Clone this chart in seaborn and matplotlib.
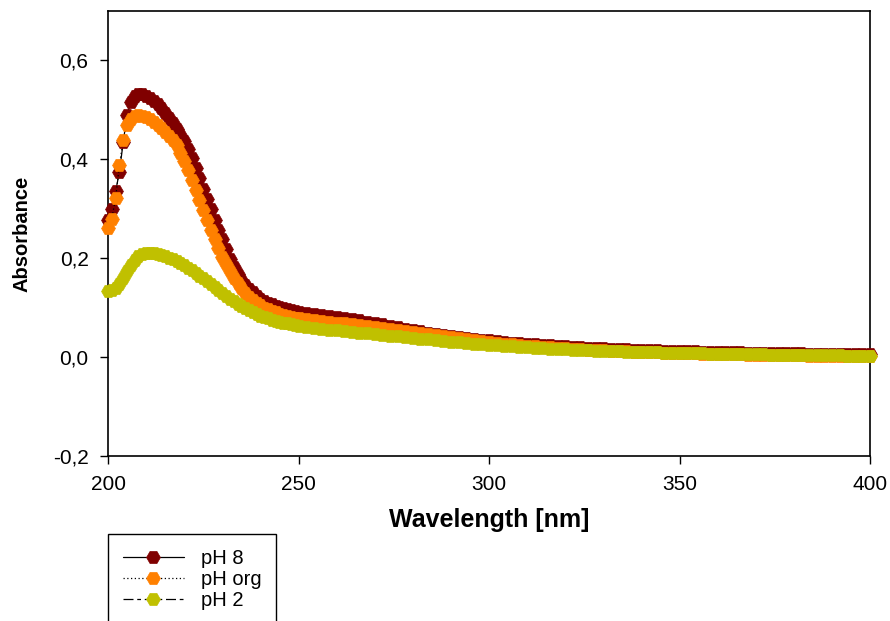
import matplotlib
matplotlib.use("Agg")
import matplotlib.pyplot as plt
import seaborn as sns
import pandas as pd

# ---------------- data ----------------
wavelength = list(range(200, 251)) + list(range(252, 401, 2))

ph8 = [0.278, 0.300, 0.335, 0.375, 0.435, 0.490, 0.515, 0.528, 0.533, 0.532,
       0.529, 0.524, 0.518, 0.511, 0.503, 0.494, 0.484, 0.473, 0.461, 0.449,
       0.437, 0.420, 0.402, 0.382, 0.362, 0.341, 0.320, 0.299, 0.278, 0.258,
       0.238, 0.218, 0.198, 0.182, 0.168, 0.156, 0.146, 0.138, 0.131, 0.124,
       0.118, 0.114, 0.110, 0.107, 0.104, 0.101, 0.099, 0.097, 0.095, 0.094,
       0.092,
       0.090, 0.088, 0.086, 0.084, 0.082, 0.080, 0.078, 0.075, 0.072, 0.069,
       0.066, 0.063, 0.060, 0.057, 0.054, 0.052, 0.049, 0.047, 0.045, 0.043,
       0.041, 0.039, 0.037, 0.035, 0.034, 0.032, 0.031, 0.029, 0.028, 0.027,
       0.026, 0.025, 0.024, 0.023, 0.022, 0.021, 0.020, 0.019, 0.019, 0.018,
       0.017, 0.017, 0.016, 0.015, 0.015, 0.014, 0.014, 0.013, 0.013, 0.012,
       0.012, 0.012, 0.011, 0.011, 0.011, 0.010, 0.010, 0.010, 0.009, 0.009,
       0.009, 0.009, 0.008, 0.008, 0.008, 0.008, 0.007, 0.007, 0.007, 0.007,
       0.006, 0.006, 0.006, 0.006, 0.006]

ph_org = [0.262, 0.280, 0.322, 0.388, 0.440, 0.470, 0.481, 0.487, 0.489, 0.488,
          0.485, 0.481, 0.476, 0.470, 0.463, 0.456, 0.448, 0.439, 0.428, 0.413,
          0.397, 0.378, 0.358, 0.338, 0.318, 0.297, 0.277, 0.257, 0.238, 0.220,
          0.203, 0.188, 0.174, 0.160, 0.149, 0.139, 0.130, 0.122, 0.115, 0.110,
          0.105, 0.100, 0.097, 0.094, 0.091, 0.088, 0.086, 0.084, 0.082, 0.080,
          0.079,
          0.077, 0.075, 0.073, 0.072, 0.070, 0.069, 0.067, 0.065, 0.063, 0.061,
          0.059, 0.057, 0.055, 0.052, 0.050, 0.048, 0.046, 0.044, 0.042, 0.040,
          0.038, 0.036, 0.034, 0.032, 0.030, 0.029, 0.027, 0.026, 0.025, 0.023,
          0.022, 0.021, 0.020, 0.019, 0.018, 0.017, 0.016, 0.015, 0.014, 0.014,
          0.013, 0.012, 0.012, 0.011, 0.011, 0.010, 0.010, 0.009, 0.009, 0.008,
          0.008, 0.008, 0.007, 0.007, 0.007, 0.006, 0.006, 0.006, 0.005, 0.005,
          0.005, 0.005, 0.004, 0.004, 0.004, 0.004, 0.003, 0.003, 0.003, 0.003,
          0.003, 0.002, 0.002, 0.002, 0.002]

ph2 = [0.134, 0.136, 0.140, 0.148, 0.160, 0.174, 0.187, 0.197, 0.204, 0.208,
       0.210, 0.211, 0.210, 0.208, 0.206, 0.204, 0.201, 0.198, 0.194, 0.190,
       0.186, 0.181, 0.176, 0.171, 0.165, 0.159, 0.153, 0.147, 0.141, 0.135,
       0.129, 0.123, 0.118, 0.113, 0.108, 0.103, 0.099, 0.095, 0.091, 0.087,
       0.084, 0.081, 0.079, 0.076, 0.074, 0.072, 0.070, 0.068, 0.066, 0.064,
       0.063,
       0.061, 0.059, 0.057, 0.055, 0.054, 0.052, 0.051, 0.049, 0.048, 0.046,
       0.045, 0.043, 0.042, 0.040, 0.039, 0.037, 0.036, 0.034, 0.033, 0.031,
       0.030, 0.029, 0.027, 0.026, 0.025, 0.024, 0.023, 0.022, 0.021, 0.020,
       0.019, 0.018, 0.017, 0.017, 0.016, 0.015, 0.015, 0.014, 0.013, 0.013,
       0.012, 0.012, 0.011, 0.011, 0.010, 0.010, 0.010, 0.009, 0.009, 0.009,
       0.008, 0.008, 0.008, 0.007, 0.007, 0.007, 0.007, 0.006, 0.006, 0.006,
       0.006, 0.005, 0.005, 0.005, 0.005, 0.005, 0.004, 0.004, 0.004, 0.004,
       0.004, 0.003, 0.003, 0.003, 0.003]

series_names = ["pH 8", "pH org", "pH 2"]
x_ticks = [200, 250, 300, 350, 400]
x_tick_labels = ["200", "250", "300", "350", "400"]
y_ticks = [-0.2, 0.0, 0.2, 0.4, 0.6]
y_tick_labels = ["-0,2", "0,0", "0,2", "0,4", "0,6"]

# ---------------- style ----------------
sns.set_style("ticks")
plt.rcParams["font.family"] = ["Liberation Sans", "DejaVu Sans"]
plt.rcParams["text.color"] = "black"
plt.rcParams["axes.labelcolor"] = "black"
plt.rcParams["xtick.color"] = "black"
plt.rcParams["ytick.color"] = "black"

fig = plt.figure(figsize=(8.90, 6.21), dpi=100)
ax = fig.add_axes([108 / 890, 1 - 456 / 621, (870 - 108) / 890, (456 - 11) / 621])

df = pd.DataFrame({"wavelength": wavelength, "pH 8": ph8,
                   "pH org": ph_org, "pH 2": ph2})

styles = {
    "pH 8": dict(color_m="#800000", ls="-"),
    "pH org": dict(color_m="#FF8000", ls=(0, (1, 2))),
    "pH 2": dict(color_m="#C0C000", ls=(0, (8, 3, 3, 3))),
}

for i, name in enumerate(series_names):
    st = styles[name]
    sns.lineplot(data=df, x="wavelength", y=name, ax=ax, color="black",
                 linestyle=st["ls"], linewidth=0.9, marker="H", markersize=10,
                 markerfacecolor=st["color_m"], markeredgecolor=st["color_m"],
                 markeredgewidth=0.5, label=name, clip_on=False, zorder=3 + i,
                 legend=False)

ax.set_xlim(200, 400)
ax.set_ylim(-0.2, 0.7)
ax.set_xticks(x_ticks)
ax.set_xticklabels(x_tick_labels)
ax.set_yticks(y_ticks)
ax.set_yticklabels(y_tick_labels)
ax.tick_params(axis="both", which="major", direction="out", length=6, width=1.0,
               color="black", labelsize=15, labelcolor="black",
               bottom=True, left=True, top=False, right=False)
ax.tick_params(axis="x", pad=8)
ax.tick_params(axis="y", pad=8)
for sp in ax.spines.values():
    sp.set_visible(True)
    sp.set_color("black")
    sp.set_linewidth(1.2)

ax.set_xlabel("Wavelength [nm]", fontsize=18, fontweight="bold", labelpad=10,
              color="black")
ax.set_ylabel("Absorbance", fontsize=14.5, fontweight="bold", labelpad=15,
              color="black")

handles, labels = ax.get_legend_handles_labels()
leg = fig.legend(handles, labels, loc="upper left",
                 bbox_to_anchor=(108 / 890, 1 - 534 / 621),
                 bbox_transform=fig.transFigure, borderaxespad=0,
                 frameon=True, fancybox=False, shadow=False, framealpha=1,
                 edgecolor="black", fontsize=14.5, handlelength=3.0,
                 handletextpad=0.85, borderpad=0.75, labelspacing=0.1,
                 numpoints=1, labelcolor="black")
leg.get_frame().set_linewidth(1.0)

fig.savefig("out.png", dpi=100)
